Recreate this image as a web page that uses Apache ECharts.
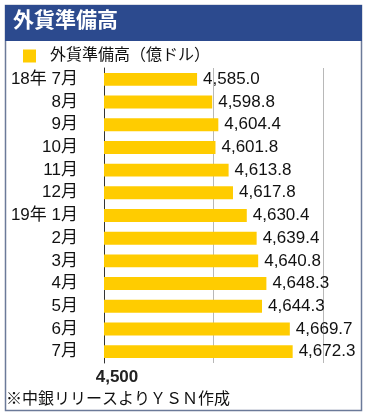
<!DOCTYPE html>
<html>
<head>
<meta charset="utf-8">
<script src="https://cdn.jsdelivr.net/npm/echarts@6/dist/echarts.min.js"></script>
<style>
html,body{margin:0;padding:0;background:#fff;}
#c{width:370px;height:419px;}
</style>
</head>
<body>
<div id="c"></div>
<script>
const titleText = '外貨準備高';
const seriesName = '外貨準備高（億ドル）';
const footnote = '※中銀リリースよりＹＳＮ作成';
const categories = ['18年 7月','8月','9月','10月','11月','12月','19年 1月','2月','3月','4月','5月','6月','7月'];
const values = [4585.0,4598.8,4604.4,4601.8,4613.8,4617.8,4630.4,4639.4,4640.8,4648.3,4644.3,4669.7,4672.3];
const axisMin = 4500, axisMax = 4700, axisInterval = 100;
const shownTick = 4500;

const FONT = '"Liberation Sans","Noto Sans CJK JP",sans-serif';
function fmt(v){
  const s = v.toFixed(1);
  const [i,d] = s.split('.');
  return i.replace(/\B(?=(\d{3})+(?!\d))/g, ',') + '.' + d;
}
function fmtInt(v){ return String(v).replace(/\B(?=(\d{3})+(?!\d))/g, ','); }

const chart = echarts.init(document.getElementById('c'), null, {renderer:'canvas'});
chart.setOption({
  animation:false,
  backgroundColor:'#fff',
  textStyle:{fontFamily:FONT},
  graphic:[
    {type:'rect', shape:{x:5.5,y:5.5,width:356,height:405}, style:{fill:'#fff', stroke:'#6b7a99', lineWidth:1.5}, z:-10},
    {type:'rect', shape:{x:5,y:5,width:357,height:36}, style:{fill:'#2c4a8e'}, z:-5},
    {type:'text', left:6, top:392, style:{text:footnote, font:'16px '+FONT, fill:'#111'}}
  ],
  title:{text:titleText, left:13, top:11, padding:0, textStyle:{color:'#fff', fontSize:21, fontWeight:'bold', fontFamily:FONT}},
  legend:{data:[seriesName], left:23, top:48, padding:0, icon:'rect', itemWidth:13, itemHeight:13,
    textStyle:{fontSize:16, color:'#111', padding:[0,0,0,9], fontFamily:FONT}},
  grid:{left:104, right:47, top:68, bottom:56, containLabel:false},
  xAxis:{type:'value', min:axisMin, max:axisMax, interval:axisInterval,
    axisLine:{show:false}, axisTick:{show:false},
    splitLine:{show:true, lineStyle:{color:'#b8b8b8', width:1}},
    axisLabel:{margin:6, fontSize:17, fontWeight:'bold', color:'#222', padding:[0,0,0,26],
      formatter:function(v){ return v===shownTick ? fmtInt(v) : ''; }}},
  yAxis:{type:'category', data:categories, inverse:true,
    axisLine:{show:true, lineStyle:{color:'#333', width:1}}, axisTick:{show:false},
    axisLabel:{margin:26, fontSize:17, color:'#111', fontFamily:FONT}},
  series:[{name:seriesName, type:'bar', data:values, barCategoryGap:'43%',
    itemStyle:{color:'#ffcc00'},
    label:{show:true, position:'right', distance:6, fontSize:17, color:'#111',
      formatter:function(p){ return fmt(p.value); }}}]
});
</script>
</body>
</html>
